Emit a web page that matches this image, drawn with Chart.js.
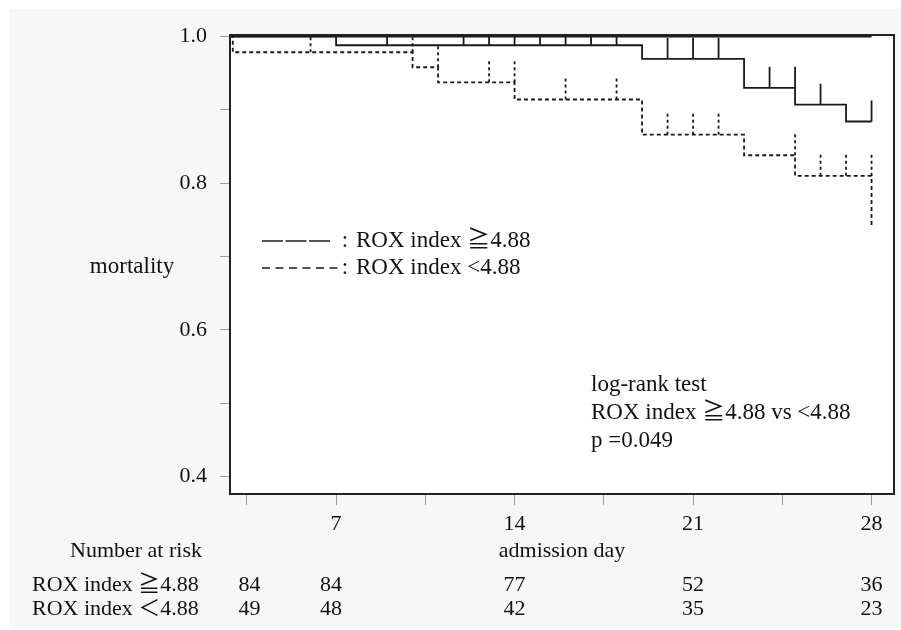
<!DOCTYPE html>
<html>
<head>
<meta charset="utf-8">
<script src="https://cdn.jsdelivr.net/npm/chart.js@4/dist/chart.umd.min.js"></script>
<style>
	html, body { margin: 0; padding: 0; background: #fff; }
	canvas { display: block; }
</style>
</head>
<body>
<canvas id="km" width="901" height="630"></canvas>
<script>
// Kaplan-Meier step points (day, survival)
const highDays = [2.84, 7, 19, 23, 25, 27, 28];
const highSurv = [1.0, 0.988, 0.9695, 0.930, 0.907, 0.884, 0.884];
const lowDays = [2.84, 2.95, 10, 11, 14, 19, 23, 25, 28];
const lowSurv = [1.0, 0.9785, 0.958, 0.9375, 0.914, 0.866, 0.838, 0.810, 0.743];

// censoring marks (day, level)
const highCensorDays = [9, 12, 13, 14, 15, 16, 17, 18, 20, 21, 22, 24, 25, 26, 28];
const highCensorVals = [0.988, 0.988, 0.988, 0.988, 0.988, 0.988, 0.988, 0.988, 0.9695, 0.9695, 0.9695, 0.930, 0.930, 0.907, 0.884];
const lowCensorDays = [6, 10, 11, 13, 14, 16, 18, 20, 21, 22, 25, 26, 27, 28];
const lowCensorVals = [0.9785, 0.9785, 0.958, 0.9375, 0.9375, 0.914, 0.914, 0.866, 0.866, 0.866, 0.838, 0.810, 0.810, 0.810];

// axes
const xTicks = [3.5, 7, 10.5, 14, 17.5, 21, 24.5, 28];
const yTicks = [0.4, 0.5, 0.6, 0.7, 0.8, 0.9, 1.0];

// number at risk table
const riskDays = [3.6, 6.8, 14, 21, 28];
const riskHigh = [84, 84, 77, 52, 36];
const riskLow = [49, 48, 42, 35, 23];

const FAMILY = '"Liberation Serif", "Noto Sans CJK JP", serif';
const FONT = "22px " + FAMILY;
const FONT_BIG = "23px " + FAMILY;
const INK = "#111";

function toPoints(days, vals) {
	return days.map((d, i) => ({ x: d, y: vals[i] }));
}

const paperPlugin = {
	id: "paper",
	beforeDraw(chart) {
		const c = chart.ctx;
		const a = chart.chartArea;
		c.save();
		c.fillStyle = "#fff";
		c.fillRect(0, 0, chart.width, chart.height);
		c.fillStyle = "#f7f7f7";
		c.fillRect(9, 9, chart.width - 9, chart.height - 11);
		c.fillStyle = "#fff";
		c.fillRect(a.left, a.top, a.right - a.left, a.bottom - a.top);
		c.restore();
	},
	afterDraw(chart) {
		const c = chart.ctx;
		const a = chart.chartArea;
		const xs = chart.scales.x;
		const ys = chart.scales.y;

		// censor ticks
		c.save();
		c.beginPath();
		c.rect(a.left, a.top, a.right - a.left, a.bottom - a.top);
		c.clip();
		c.strokeStyle = "#1a1a1a";
		c.lineWidth = 1.8;
		function marks(days, vals, dash) {
			c.setLineDash(dash);
			days.forEach((d, i) => {
				const px = xs.getPixelForValue(d);
				const py = ys.getPixelForValue(vals[i]);
				c.beginPath();
				c.moveTo(px, py);
				c.lineTo(px, py - 21);
				c.stroke();
			});
		}
		marks(highCensorDays, highCensorVals, []);
		marks(lowCensorDays, lowCensorVals, [3, 3]);
		c.restore();

		// plot frame
		c.save();
		c.strokeStyle = "#222";
		c.lineWidth = 2;
		c.strokeRect(a.left, a.top, a.right - a.left, a.bottom - a.top);
		c.restore();

		// texts
		c.save();
		c.font = FONT_BIG;
		c.fillStyle = INK;
		c.textBaseline = "middle";
		c.textAlign = "center";
		c.fillText("mortality", 132, 267);
		c.font = FONT;
		c.fillText("admission day", (a.left + a.right) / 2, 551);

		c.textAlign = "left";
		c.fillText("Number at risk", 70, 551);
		c.fillText("ROX index ≧4.88", 32, 585);
		c.fillText("ROX index ＜4.88", 32, 609);

		// legend
		c.strokeStyle = "#1a1a1a";
		c.lineWidth = 1.6;
		c.setLineDash([21, 2.5]);
		c.beginPath();
		c.moveTo(262, 241);
		c.lineTo(330, 241);
		c.stroke();
		c.setLineDash([8, 5.5]);
		c.beginPath();
		c.moveTo(262, 268);
		c.lineTo(338, 268);
		c.stroke();
		c.setLineDash([]);
		c.font = FONT_BIG;
		c.textAlign = "center";
		c.fillText(":", 345, 241);
		c.fillText(":", 345, 268);
		c.textAlign = "left";
		c.fillText("ROX index ≧4.88", 356, 241);
		c.fillText("ROX index <4.88", 356, 268);

		// log-rank note
		c.fillText("log-rank test", 591, 385);
		c.fillText("ROX index ≧4.88 vs <4.88", 591, 413);
		c.fillText("p =0.049", 591, 441);

		// risk numbers
		c.font = FONT;
		c.textAlign = "center";
		riskDays.forEach((d, i) => {
			const px = xs.getPixelForValue(d);
			c.fillText(String(riskHigh[i]), px, 585);
			c.fillText(String(riskLow[i]), px, 609);
		});
		c.restore();
	},
};

new Chart(document.getElementById("km"), {
	type: "line",
	data: {
		datasets: [
			{
				label: "top",
				data: [{ x: highDays[0], y: 1.0 }, { x: 28, y: 1.0 }],
				borderColor: "#1a1a1a",
				borderWidth: 2,
				pointRadius: 0,
			},
			{
				label: "ROX index ≧4.88",
				data: toPoints(highDays, highSurv),
				stepped: "before",
				borderColor: "#1a1a1a",
				borderWidth: 1.8,
				pointRadius: 0,
			},
			{
				label: "ROX index <4.88",
				data: toPoints(lowDays, lowSurv),
				stepped: "before",
				borderColor: "#1a1a1a",
				borderWidth: 1.8,
				borderDash: [4, 3],
				pointRadius: 0,
			},
		],
	},
	options: {
		responsive: false,
		animation: false,
		layout: {
			padding: { left: 0, top: 35, right: 7, bottom: 96 },
		},
		plugins: {
			legend: { display: false },
			tooltip: { enabled: false },
		},
		scales: {
			x: {
				type: "linear",
				min: 2.84,
				max: 28.88,
				afterBuildTicks: (scale) => {
					scale.ticks = xTicks.map((v) => ({ value: v }));
				},
				afterFit: (scale) => {
					scale.height = 40;
				},
				grid: {
					drawOnChartArea: false,
					tickLength: 11,
					color: "#9a9a9a",
				},
				border: { display: false },
				ticks: {
					autoSkip: false,
					maxRotation: 0,
					padding: 6,
					color: INK,
					font: { family: '"Liberation Serif", serif', size: 22 },
					callback: (v) => (v % 7 === 0 ? String(v) : ""),
				},
			},
			y: {
				type: "linear",
				min: 0.376,
				max: 1.002,
				afterBuildTicks: (scale) => {
					scale.ticks = yTicks.map((v) => ({ value: v }));
				},
				afterFit: (scale) => {
					scale.width = 230;
				},
				grid: {
					drawOnChartArea: false,
					tickLength: 10,
					color: "#9a9a9a",
				},
				border: { display: false },
				ticks: {
					autoSkip: false,
					padding: 13,
					color: INK,
					font: { family: '"Liberation Serif", serif', size: 22 },
					callback: (v) => (Math.round(v * 10) % 2 === 0 ? v.toFixed(1) : ""),
				},
			},
		},
	},
	plugins: [paperPlugin],
});
</script>
</body>
</html>
